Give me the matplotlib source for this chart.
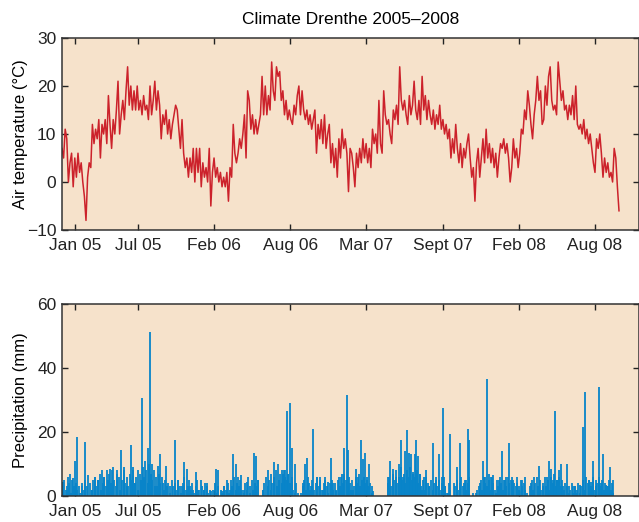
import numpy as np
import matplotlib.pyplot as plt

plt.rcParams['font.family'] = ['Liberation Sans', 'DejaVu Sans']

# ---------------------------------------------------------------------------
# Daily mean air temperature, read off every 4th day (day 0 = 1 Jan 2005)
# ---------------------------------------------------------------------------
temp_step = 4
temp_c = [
    7, 5, 11, 9, 0, 4, 6, -1, 5, 1,
    6, 2, 4, 0, -3, -8, 1, 4, 3, 12,
    8, 11, 9, 13, 5, 12, 10, 13, 8, 18,
    12, 7, 13, 10, 15, 21, 10, 14, 17, 13,
    19, 24, 16, 20, 15, 19, 15, 20, 15, 17,
    14, 18, 15, 16, 13, 20, 14, 17, 21, 15,
    19, 16, 9, 14, 12, 15, 10, 13, 9, 12,
    14, 16, 15, 11, 7, 13, 6, 3, 5, 1,
    5, 2, 7, 0, 7, 2, 7, -1, 4, 1,
    3, 0, 7,
    -5, 2, 5, 1, 3, 0, 2, -1, 1, -1,
    2, -4, 3, 1, 12, 6, 4, 6, 9, 7,
    10, 14, 5, 19, 17, 11, 14, 10, 13, 10,
    12, 14, 22, 14, 20, 14, 18, 15, 25, 19,
    17, 24, 22, 23, 17, 19, 14, 17, 13, 15,
    13, 12, 16, 14, 18, 20, 14, 19, 15, 13,
    15, 12, 14, 11, 13, 15, 6, 12, 9, 13,
    8, 14, 7, 10, 12, 4, 8, 3, 7, 1,
    9, 5, 11, 7, 9, 6, -2, 7, 6, 3,
    -1, 6, 3, 7, 4, 9, 5, 8, 4, 7,
    3, 11, 8, 10, 6, 17, 8, 6, 19, 14,
    12, 13, 10, 8, 15, 13, 16, 12, 24, 17,
    15, 17, 14, 12, 18, 14, 16, 21, 15, 13,
    17, 12, 22, 15, 18, 13, 17, 14, 12, 15,
    11, 14, 12, 16, 11, 13, 10, 12, 9, 11,
    5, 9, 6, 12, 7, 4, 8, 3, 7, 5,
    8, 10, 5, 1, 3, -4, 4, 7, 1, 5,
    9, 4, 11, 5, 8, 4, 7, 3, 6, 1,
    5,
    8, 7, 9, 6, 8, 5, 0, 3, 9, 5,
    7, 3, 6, 11, 10, 15, 13, 19, 16, 12,
    9, 14, 17, 22, 17, 19, 12, 13, 20, 16,
    22, 24, 17, 15, 16, 14, 25, 21, 17, 19,
    15, 16, 13, 16, 14, 18, 13, 20, 12, 11,
    12, 10, 13, 9, 11, 8, 10, 7, 4, 2,
    9, 7, 10, 6, 1, 5, 2, 4, 1, 2,
    0, 7, 5, -1, -6,
]

# ---------------------------------------------------------------------------
# Precipitation: the marked rain days (day number, mm) ...
# ---------------------------------------------------------------------------
rain_day = [
    3, 12, 20, 28, 33, 37, 49, 57, 66, 74,
    82, 91, 99, 105, 112, 120, 128, 137, 147, 155,
    163, 172, 177, 183, 191, 201, 207, 215, 220, 224,
    232, 241, 245, 253, 260, 270, 282, 291, 299, 305,
    312, 320, 328, 335, 341, 347, 355, 362, 372, 385,
    391, 399, 405, 412, 420, 428, 435, 441, 447, 454,
    462, 470, 480, 485, 491, 503, 514, 522, 530, 541,
    549, 553, 557, 562, 566, 570, 575, 582, 585, 591,
    603, 608, 612, 620, 628, 637, 645, 652, 657, 666,
    672, 678, 685, 693, 699, 705, 712, 715, 720, 727,
    735, 741, 747, 752, 757, 762, 767, 774, 778, 814,
    820, 827, 835, 843, 847, 853, 857, 862, 867, 872,
    878, 882, 885, 889, 895, 900, 905, 910, 918, 927,
    935, 942, 949, 953, 957, 964, 970, 980, 987, 995,
    1005, 1010, 1014, 1018, 1027, 1037, 1045, 1052, 1057, 1062,
    1066, 1072, 1077, 1084, 1091, 1099, 1105, 1110, 1117, 1124,
    1128, 1137, 1142, 1149, 1156, 1163, 1172, 1180, 1191, 1202,
    1212, 1217, 1222, 1226, 1232, 1238, 1242, 1247, 1253, 1261,
    1268, 1276, 1282, 1288, 1295, 1301, 1307, 1316, 1321, 1326,
    1335, 1341, 1346, 1351, 1360, 1364, 1370, 1374, 1378,
]
rain_mm = [
    4.5, 3, 7, 5.5, 11, 18.5, 3, 17, 6.5, 2,
    6, 5, 8, 6, 8, 8.5, 9, 8, 14.3, 9,
    3, 16, 9, 4, 8, 30.7, 11, 15, 51.3, 10,
    3, 9.5, 13, 4, 9.5, 3, 17.5, 5, 3, 10.5,
    8.5, 3, 2, 7.5, 2, 5, 2, 4, 1.5, 8.5,
    8, 1.5, 3, 5, 2, 13, 10, 6, 6.5, 2,
    4.5, 1, 13.5, 12.5, 5, 2, 8, 2, 10.5, 10,
    8, 7, 8, 26.5, 7, 29, 15, 10, 4, 1,
    4, 10, 12, 2, 21, 6, 6, 2, 5, 4.5,
    12, 4, 1.5, 6, 7, 15, 31.5, 14.5, 4, 2,
    8.5, 6, 17.5, 11.5, 13.5, 6, 10, 3, 1.5, 6,
    11, 8.5, 6, 10, 17.5, 6, 14, 20.5, 13.5, 13,
    7.5, 13, 17.5, 12.5, 7, 2, 6, 8, 3, 16.5,
    5, 13, 6, 27.5, 3, 1, 19.5, 4, 9, 16.5,
    4, 5, 21, 17.5, 1, 2, 4, 11, 6, 36.5,
    7, 6, 6.5, 1, 5, 14, 5, 6, 16.5, 6,
    5, 4, 3, 5, 6, 1, 4, 6, 9.5, 3,
    6, 11, 8.5, 5, 26.5, 5, 8, 10, 3, 10,
    3, 3, 3, 1, 3.5, 21.5, 32.5, 5, 4.5, 11,
    3, 34, 4, 13, 3.5, 3, 9, 2, 5,
]

light_step = 4
light_mm = [
    3, 5, 2, 6, 4, 1, 5, 3, 4, 2,
    3, 1, 4, 2, 5, 3, 0, 4, 2, 5,
    6, 3, 5, 7, 2, 4, 6, 3, 5, 7,
    4, 8, 5, 3, 7, 6, 2, 5, 8, 4,
    6, 3, 7, 5, 8, 4, 6, 2, 7, 5,
    9, 6, 8, 4, 10, 7, 5, 8, 6, 3,
    7, 4, 6, 2, 5, 3, 4, 1, 5, 3,
    4, 2, 5, 3, 1, 4, 6, 2, 3, 5,
    2, 4, 1, 3, 5, 2, 0, 3, 2, 4,
    3, 1, 2, 0, 2, 4, 1, 3, 0, 2,
    1, 3, 2, 4, 1, 5, 3, 6, 2, 4,
    3, 5, 2, 1, 4, 2, 6, 3, 5, 2,
    4, 3, 5, 0, 0, 2, 4, 6, 3, 5,
    7, 4, 6, 8, 3, 5, 7, 4, 8, 6,
    5, 7, 4, 6, 2, 1, 0, 0, 0, 1,
    3, 5, 2, 6, 4, 3, 5, 2, 4, 6,
    3, 5, 2, 4, 6, 3, 1, 4, 5, 2,
    4, 2, 5, 3, 6, 4, 7, 5, 3, 6,
    2, 5, 3, 6, 4, 7, 3, 5, 6, 4,
    5, 3, 4, 1, 0, 0, 0, 0, 0, 0,
    0, 0, 0, 4, 6, 3, 7, 5, 8, 4,
    6, 9, 5, 7, 4, 8, 6, 9, 5, 7,
    6, 8, 4, 7, 3, 5, 2, 6, 4, 3,
    5, 2, 4, 6, 3, 5, 2, 4, 6, 3,
    1, 4, 2, 0, 0, 3, 5, 2, 4, 6,
    3, 5, 2, 4, 6, 0, 0, 0, 1, 0,
    3, 5, 2, 6, 4, 3, 5, 2, 6, 4,
    2, 5, 3, 6, 4, 2, 5, 3, 6, 4,
    5, 2, 4, 3, 6, 2, 5, 3, 4, 2,
    0, 0, 3, 5, 2, 4, 6, 3, 5, 2,
    4, 6, 3, 5, 2, 6, 4, 7, 3, 5,
    6, 3, 5, 2, 4, 3, 1, 2, 4, 1,
    3, 2, 4, 1, 3, 5, 2, 6, 4, 5,
    3, 6, 2, 5, 4, 6, 3, 5, 2, 4,
    3, 5, 2, 4, 1, 0, 0, 0,
]

tick_days = [32, 190, 380, 570, 760, 952, 1142, 1332]
tick_labels = ['Jan 05', 'Jul 05', 'Feb 06', 'Aug 06',
               'Mar 07', 'Sept 07', 'Feb 08', 'Aug 08']

bg = '#f6e2cb'
red = '#cc222b'
blue = '#0784c9'

temp_days = np.arange(len(temp_c)) * temp_step
light_days = 2 + np.arange(len(light_mm)) * light_step

fig = plt.figure(figsize=(6.39, 5.22), dpi=100)
ax1 = fig.add_axes([0.097, 0.5594, 0.903, 0.3678])
ax2 = fig.add_axes([0.097, 0.0498, 0.903, 0.3678])

ax1.plot(temp_days, temp_c, color=red, lw=1.1)
ax2.vlines(light_days, 0, light_mm, color=blue, lw=1.3)
ax2.vlines(rain_day, 0, rain_mm, color=blue, lw=1.3)

ax1.set_ylim(-10, 30)
ax1.set_yticks([-10, 0, 10, 20, 30])
ax2.set_ylim(0, 60)
ax2.set_yticks([0, 20, 40, 60])

ax1.set_ylabel('Air temperature (\u00b0C)', fontsize=12, labelpad=-0.5)
ax2.set_ylabel('Precipitation (mm)', fontsize=12, labelpad=6.5)
ax1.set_title('Climate Drenthe 2005\u20132008', fontsize=12.5, pad=10)

for ax in (ax1, ax2):
    ax.set_facecolor(bg)
    ax.set_xlim(0, 1442)
    ax.set_xticks(tick_days)
    ax.set_xticklabels(tick_labels)
    ax.tick_params(direction='in', length=4, width=1.0, top=True, right=True,
                   labelsize=12.5, colors='#222222', pad=4)
    ax.tick_params(axis='x', pad=5.5)
    for sp in ax.spines.values():
        sp.set_linewidth(1.1)
        sp.set_color('#333333')

fig.savefig('out.png', dpi=100)
